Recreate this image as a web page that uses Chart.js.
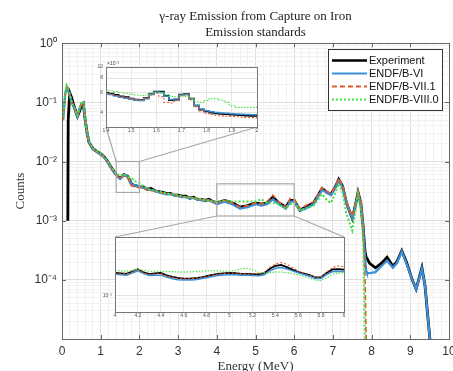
<!DOCTYPE html>
<html><head><meta charset="utf-8">
<script src="https://cdn.jsdelivr.net/npm/chart.js@4/dist/chart.umd.min.js"></script>
<style>
html,body{margin:0;padding:0;background:#fff;}
#wrap{position:relative;width:453px;height:371px;overflow:hidden;}
#wrap canvas{position:absolute;}
</style></head><body>
<div id="wrap">
<canvas id="main" width="453" height="371" style="left:0;top:0"></canvas>
<canvas id="in1" width="174" height="84" style="left:88px;top:56px"></canvas>
<canvas id="in2" width="256" height="97" style="left:93px;top:228px"></canvas>
</div>
<script>
// ---------------- DATA ----------------
const titleLines = ['\u03B3-ray Emission from Capture on Iron', 'Emission standards'];
const seriesNames = ['Experiment', 'ENDF/B-VI', 'ENDF/B-VII.1', 'ENDF/B-VIII.0'];
const xTickLabels = ['0','1','2','3','4','5','6','7','8','9','10'];
const yTickExponents = [-4, -3, -2, -1, 0];

// main panel: energy (MeV) and counts
const mainEnergy = [0.03,0.08,0.12,0.15,0.16,0.2,0.25,0.3,0.35,0.4,0.45,0.5,0.55,0.6,0.65,0.7,0.8,0.9,1.0,1.1,
  1.2,1.3,1.4,1.5,1.6,1.7,1.8,1.9,2.0,2.1,2.2,2.3,2.4,2.5,2.6,2.7,2.8,2.9,3.0,3.1,
  3.2,3.3,3.4,3.5,3.6,3.7,3.8,3.9,4.0,4.2,4.4,4.6,4.8,5.0,5.15,5.3,5.45,5.6,5.78,5.9,
  6.0,6.15,6.3,6.5,6.72,6.85,6.95,7.05,7.15,7.25,7.35,7.5,7.58,7.65,7.72,7.78,7.83,7.86,7.88,7.95,
  8.1,8.25,8.4,8.55,8.65,8.78,8.9,9.05,9.15,9.3,9.38,9.45,9.52];
const expCounts = [null,null,null,0.001,0.05,0.145,0.12,0.09,0.072,0.058,0.07,0.088,0.095,0.05,0.03,0.021,0.0165,0.0148,0.0135,0.0118,
  0.0095,0.0074,0.006,0.0052,0.006,0.0056,0.0041,0.0039,0.00375,0.0037,0.0034,0.0035,0.0032,0.0031,0.0030,0.0029,0.0029,0.0027,0.0027,0.0026,
  0.0026,0.0024,0.0025,0.0023,0.0023,0.0022,0.0023,0.0021,0.0020,0.0022,0.0020,0.0017,0.0018,0.0020,0.0019,0.0020,0.0025,0.0020,0.0017,0.0022,
  0.0022,0.0015,0.0017,0.0020,0.0035,0.0030,0.0028,0.0036,0.0050,0.0038,0.0020,0.0011,0.0018,0.0030,0.0020,0.0008,0.0003,0.00024,0.00023,0.00019,
  0.00016,0.00019,0.00024,0.00017,0.0002,0.00031,0.0002,0.0001,0.00007,0.00016,0.00008,0.000025,0.000008];
const endf6Counts = [0.05,0.13,0.18,0.165,0.155,0.13,0.1,0.085,0.07,0.058,0.075,0.095,0.1,0.05,0.03,0.021,0.016,0.0145,0.013,0.0115,
  0.0093,0.0072,0.0059,0.0051,0.006,0.0056,0.0041,0.0039,0.0038,0.0036,0.0034,0.0033,0.0032,0.003,0.0029,0.0028,0.0028,0.0027,0.0026,0.0025,
  0.0025,0.0024,0.0024,0.0023,0.0022,0.0022,0.0022,0.0021,0.0019,0.0021,0.0019,0.0016,0.0017,0.0019,0.0018,0.0019,0.0023,0.0019,0.0016,0.0021,
  0.0021,0.0015,0.0016,0.0019,0.0033,0.003,0.0027,0.0035,0.0048,0.0037,0.002,0.0011,0.0018,0.0029,0.002,0.0008,0.00025,0.00014,0.00013,0.00013,
  0.000135,0.00017,0.00021,0.00016,0.00019,0.0003,0.00019,0.0001,0.00007,0.000155,0.00008,0.000025,0.000008];
const endf71Counts = [0.05,0.14,0.18,0.17,0.16,0.13,0.1,0.085,0.07,0.06,0.075,0.095,0.1,0.05,0.03,0.021,0.0165,0.0148,0.0134,0.0117,
  0.0094,0.0073,0.0059,0.0051,0.0058,0.0054,0.0039,0.0037,0.0036,0.0037,0.0033,0.0034,0.0031,0.0031,0.0029,0.003,0.0028,0.0027,0.0026,0.0026,
  0.0025,0.0025,0.0024,0.0023,0.0023,0.0022,0.0022,0.0021,0.002,0.0022,0.002,0.0017,0.0018,0.002,0.0019,0.0021,0.0027,0.0021,0.0017,0.0024,
  0.0023,0.0016,0.0018,0.0021,0.0036,0.0031,0.0029,0.0037,0.0052,0.004,0.0021,0.0012,0.0019,0.0031,0.0021,0.0008,0.0001,0.00001,0.000001,null,
  null,null,null,null,null,null,null,null,null,null,null,null,null];
const endf80Counts = [0.056,0.15,0.195,0.18,0.165,0.14,0.105,0.088,0.072,0.06,0.078,0.098,0.102,0.052,0.031,0.022,0.0165,0.015,0.0136,0.0118,
  0.0096,0.0076,0.0063,0.0057,0.006,0.0056,0.0052,0.0046,0.0044,0.0038,0.0035,0.0033,0.0032,0.0031,0.003,0.0029,0.0028,0.0028,0.0027,0.0026,
  0.0025,0.0025,0.0024,0.0024,0.0023,0.0022,0.0022,0.0021,0.0021,0.0022,0.0021,0.0021,0.0021,0.0021,0.0023,0.0020,0.0020,0.0019,0.0016,0.0019,
  0.002,0.0015,0.0016,0.0018,0.0028,0.0022,0.002,0.0028,0.0042,0.003,0.0013,0.00068,0.0014,0.0028,0.0015,0.0005,0.00001,0.000001,null,null,
  null,null,null,null,null,null,null,null,null,null,null,null,null];

// inset 1 (1.4 - 2.0 MeV), counts in units of 1e-3
const inset1Energy = [1.40,1.42,1.44,1.46,1.48,1.50,1.52,1.54,1.56,1.58,1.60,1.62,1.64,1.66,1.68,1.70,1.72,1.74,1.76,1.78,1.80,1.82,1.84,1.86,1.88,1.90,1.92,1.94,1.96,1.98,2.00];
const inset1Exp   = [5.95,5.85,5.7,5.55,5.45,5.3,5.2,5.15,5.35,5.8,6.1,6.1,5.6,5.15,5.2,5.75,5.8,5.3,4.6,4.25,4.1,4.0,3.95,3.9,3.88,3.85,3.82,3.8,3.78,3.76,3.75];
const inset1E6    = [5.85,5.75,5.6,5.45,5.35,5.25,5.15,5.1,5.3,5.75,6.05,6.0,5.55,5.2,5.25,5.7,5.75,5.25,4.65,4.3,4.15,4.08,4.02,3.98,3.95,3.92,3.9,3.88,3.86,3.84,3.83];
const inset1E71   = [5.9,5.8,5.65,5.5,5.4,5.3,5.2,5.15,5.3,5.7,5.9,5.5,4.9,4.85,5.1,5.6,5.7,5.2,4.5,4.15,3.95,3.85,3.8,3.75,3.72,3.7,3.68,3.66,3.64,3.62,3.6];
const inset1E80   = [6.3,6.2,6.1,6.0,5.9,5.8,5.7,5.65,5.7,5.95,6.0,5.95,5.75,5.55,5.5,5.6,5.55,5.3,4.95,4.9,5.1,5.3,5.3,5.15,4.9,4.6,4.45,4.45,4.45,4.45,4.45];
const inset1XTicks = [1.4,1.5,1.6,1.7,1.8,1.9,2.0];
const inset1YLabels = [4,6,8,10];

// inset 2 (4 - 6 MeV), counts in units of 1e-3
const inset2Energy = [4.00,4.05,4.10,4.15,4.20,4.25,4.30,4.35,4.40,4.45,4.50,4.55,4.60,4.65,4.70,4.75,4.80,4.85,4.90,4.95,5.00,
  5.05,5.10,5.15,5.20,5.25,5.30,5.35,5.40,5.45,5.50,5.55,5.60,5.65,5.70,5.75,5.80,5.85,5.90,5.95,6.00];
const inset2Exp = [2.00,1.97,1.93,2.08,2.23,2.02,1.92,1.97,1.99,1.85,1.76,1.71,1.67,1.67,1.69,1.73,1.80,1.88,1.94,1.97,2.00,
  1.98,1.94,1.93,1.92,1.91,1.96,2.25,2.48,2.54,2.38,2.2,2.05,1.95,1.86,1.74,1.75,2.0,2.22,2.24,2.2];
const inset2E6 = [1.92,1.88,1.85,1.98,2.12,1.95,1.84,1.86,1.86,1.75,1.67,1.62,1.6,1.6,1.62,1.66,1.72,1.79,1.84,1.87,1.89,
  1.88,1.86,1.85,1.84,1.83,1.87,2.1,2.3,2.35,2.25,2.12,2.0,1.9,1.8,1.68,1.68,1.9,2.08,2.1,2.08];
const inset2E71 = [1.95,1.93,1.92,2.07,2.22,2.0,1.9,1.93,1.95,1.82,1.73,1.69,1.66,1.66,1.68,1.72,1.78,1.86,1.92,1.96,1.98,
  1.97,1.94,1.93,1.93,1.94,2.0,2.35,2.62,2.73,2.6,2.35,2.12,1.98,1.87,1.74,1.75,2.05,2.35,2.48,2.4];
const inset2E80 = [2.13,2.12,2.1,2.15,2.23,2.15,2.1,2.1,2.1,2.08,2.07,2.06,2.05,2.06,2.08,2.1,2.12,2.13,2.12,2.1,2.1,
  2.15,2.25,2.3,2.2,2.05,1.98,2.0,2.05,2.05,2.0,1.95,1.88,1.8,1.7,1.6,1.57,1.72,1.9,1.98,2.0];
const inset2XTicks = [4,4.2,4.4,4.6,4.8,5,5.2,5.4,5.6,5.8,6];

// zoom boxes on the main axes (energy range, counts range)
const zoom1Box = {x:[1.4, 2.0], y:[0.003, 0.01]};
const zoom2Box = {x:[4.0, 6.0], y:[0.0012, 0.0042]};

// ---------------- STYLE ----------------
const COLORS = ['#000000', '#3a8fd6', '#e05a2b', '#44e044'];
const SANS = "'Liberation Sans', Arial, sans-serif";
const SERIF = "'Liberation Serif', 'Times New Roman', serif";
const SUP = {'0':'\u2070','1':'\u00B9','2':'\u00B2','3':'\u00B3','4':'\u2074','5':'\u2075','6':'\u2076','7':'\u2077','8':'\u2078','9':'\u2079','-':'\u207B'};
function pow10(e){ return '10' + String(e).split('').map(c => SUP[c]).join(''); }
function isDecade(v){ const l = Math.log10(v); return Math.abs(l - Math.round(l)) < 1e-6; }
function pts(xs, ys){ return xs.map((x,i) => ({x:x, y:ys[i]})); }

Chart.defaults.font.family = SANS;
Chart.defaults.color = '#333';

function dsMain(i, data, width){
  const d = {label: seriesNames[i], data: data, borderColor: COLORS[i], backgroundColor: COLORS[i],
    borderWidth: width, pointRadius: 0, tension: 0, fill: false, order: 4 - i, spanGaps: false};
  if (i === 2) d.borderDash = [5,3];
  if (i === 3) d.borderDash = [2,2];
  return d;
}

const whiteArea = {
  id: 'whiteArea',
  beforeDraw(chart){
    const a = chart.chartArea, c = chart.ctx;
    c.save(); c.fillStyle = '#fff'; c.fillRect(a.left, a.top, a.right - a.left, a.bottom - a.top); c.restore();
  },
  afterDraw(chart){
    const a = chart.chartArea, c = chart.ctx;
    c.save(); c.strokeStyle = '#777'; c.lineWidth = 1;
    c.strokeRect(Math.round(a.left)+0.5, Math.round(a.top)+0.5, Math.round(a.right-a.left), Math.round(a.bottom-a.top));
    if (chart.options.plugins.multiplier && chart.options.plugins.multiplier.text){
      c.fillStyle = '#444'; c.font = '5px ' + SANS; c.textAlign = 'left'; c.textBaseline = 'bottom';
      c.fillText(chart.options.plugins.multiplier.text, a.left + 1, a.top - 1);
    }
    c.restore();
  }
};

function insetChart(id, xs, series, opts){
  const datasets = series.map((s, i) => {
    const d = dsMain(i, pts(xs, s), i === 0 ? 1.8 : (i === 1 ? 1.5 : 1.1));
    if (opts.stepped) d.stepped = 'middle';
    if (i === 2) d.borderDash = [2,2];
    if (i === 3) d.borderDash = [1.5,1.5];
    return d;
  });
  return new Chart(document.getElementById(id), {
    type: 'line',
    data: {datasets},
    plugins: [whiteArea],
    options: {
      responsive: false, animation: false, devicePixelRatio: 1,
      layout: {padding: {top: opts.padTop, right: opts.padRight, left: 0, bottom: 0}},
      plugins: {legend: {display: false}, tooltip: {enabled: false}, title: {display: false},
        multiplier: {text: opts.multiplier || ''}},
      scales: {
        x: {type: 'linear', min: opts.xMin, max: opts.xMax,
          afterBuildTicks: s => { s.ticks = opts.xTicks.map(v => ({value: v})); },
          afterFit: s => { s.height = opts.xHeight; s.paddingLeft = 0; s.paddingRight = 0; },
          ticks: {font: {size: 5}, color: '#555', padding: 1, autoSkip: false, maxRotation: 0,
            callback: v => String(+v.toFixed(1))},
          grid: {color: '#e2e2e2', drawTicks: false, lineWidth: 0.8},
          border: {display: false}},
        y: {type: 'logarithmic', min: opts.yMin, max: opts.yMax,
          afterBuildTicks: s => { s.ticks = opts.yTicks.map(v => ({value: v})); },
          afterFit: s => { s.width = opts.yWidth; s.paddingTop = 0; s.paddingBottom = 0; },
          ticks: {font: {size: 5}, color: '#555', padding: 3, autoSkip: false, callback: opts.yLabel},
          grid: {color: c => opts.yMajor(c.tick.value) ? '#dcdcdc' : '#f0f0f0', drawTicks: false, lineWidth: 0.8},
          border: {display: false}}
      }
    }
  });
}

const in1 = insetChart('in1', inset1Energy, [inset1Exp, inset1E6, inset1E71, inset1E80], {
  stepped: true, padTop: 11, padRight: 5, xHeight: 13, yWidth: 18,
  xMin: 1.4, xMax: 2.0, xTicks: inset1XTicks,
  yMin: 3, yMax: 10, yTicks: [3,4,5,6,7,8,9,10],
  yLabel: v => inset1YLabels.includes(Math.round(v)) && Math.abs(v - Math.round(v)) < 1e-6 ? String(Math.round(v)) : '',
  yMajor: v => inset1YLabels.includes(Math.round(v)),
  multiplier: '\u00D710' + '\u207B\u00B3'
});
const in2 = insetChart('in2', inset2Energy, [inset2Exp, inset2E6, inset2E71, inset2E80], {
  stepped: false, padTop: 9, padRight: 5, xHeight: 13, yWidth: 22,
  xMin: 4, xMax: 6, xTicks: inset2XTicks,
  yMin: 0.6, yMax: 6, yTicks: [0.6,0.7,0.8,0.9,1,2,3,4,5,6],
  yLabel: v => Math.abs(v - 1) < 1e-9 ? pow10(-3) : '',
  yMajor: v => Math.abs(v - 1) < 1e-9
});

// ---------------- MAIN ----------------
const mainDecor = {
  id: 'mainDecor',
  afterDatasetsDraw(chart){
    const c = chart.ctx, a = chart.chartArea, xs = chart.scales.x, ys = chart.scales.y;
    c.save();
    // axes box
    c.strokeStyle = '#666'; c.lineWidth = 1;
    c.strokeRect(Math.round(a.left)+0.5, Math.round(a.top)+0.5, Math.round(a.right-a.left), Math.round(a.bottom-a.top));
    // inward ticks
    c.beginPath();
    xTickLabels.forEach(t => { const px = Math.round(xs.getPixelForValue(+t)) + 0.5;
      c.moveTo(px, a.bottom); c.lineTo(px, a.bottom - 4); c.moveTo(px, a.top); c.lineTo(px, a.top + 4); });
    yTickExponents.concat([-5]).forEach(e => { const py = Math.round(ys.getPixelForValue(Math.pow(10, e))) + 0.5;
      c.moveTo(a.left, py); c.lineTo(a.left + 4, py); c.moveTo(a.right, py); c.lineTo(a.right - 4, py); });
    c.stroke();
    // zoom boxes and connectors
    c.strokeStyle = '#a8a8a8'; c.lineWidth = 1.2;
    const box = (b) => {
      const x1 = xs.getPixelForValue(b.x[0]), x2 = xs.getPixelForValue(b.x[1]);
      const y1 = ys.getPixelForValue(b.y[1]), y2 = ys.getPixelForValue(b.y[0]);
      c.strokeRect(x1, y1, x2 - x1, y2 - y1);
      return {x1, x2, y1, y2};
    };
    const r1 = box(zoom1Box), r2 = box(zoom2Box);
    const cv1 = in1.canvas, cv2 = in2.canvas, A1 = in1.chartArea, A2 = in2.chartArea;
    const o1x = cv1.offsetLeft, o1y = cv1.offsetTop, o2x = cv2.offsetLeft, o2y = cv2.offsetTop;
    c.beginPath();
    c.moveTo(r1.x1, r1.y1); c.lineTo(o1x + A1.left, o1y + A1.bottom);
    c.moveTo(r1.x2, r1.y1); c.lineTo(o1x + A1.right, o1y + A1.bottom);
    c.moveTo(r2.x1, r2.y2); c.lineTo(o2x + A2.left, o2y + A2.top);
    c.moveTo(r2.x2, r2.y2); c.lineTo(o2x + A2.right, o2y + A2.top);
    c.stroke();
    c.restore();
  },
  afterDraw(chart){
    // legend box
    const c = chart.ctx;
    const L = 328.5, T = 49.5, W = 114, H = 61;
    c.save();
    c.fillStyle = '#fff'; c.fillRect(L, T, W, H);
    c.strokeStyle = '#333'; c.lineWidth = 1; c.strokeRect(L, T, W, H);
    c.font = '11px ' + SANS; c.textBaseline = 'middle'; c.textAlign = 'left'; c.fillStyle = '#111';
    chart.data.datasets.forEach((d, i) => {
      const y = 60.5 + i * 13;
      c.beginPath(); c.strokeStyle = d.borderColor; c.lineWidth = i === 0 ? 2.5 : 2;
      c.setLineDash(d.borderDash || []);
      c.moveTo(332, y); c.lineTo(367, y); c.stroke();
      c.setLineDash([]);
      c.fillText(d.label, 369, y + 0.5);
    });
    c.restore();
  }
};

new Chart(document.getElementById('main'), {
  type: 'line',
  data: {datasets: [
    dsMain(0, pts(mainEnergy, expCounts), 2.8),
    dsMain(1, pts(mainEnergy, endf6Counts), 2.3),
    dsMain(2, pts(mainEnergy, endf71Counts), 1.7),
    dsMain(3, pts(mainEnergy, endf80Counts), 2)
  ]},
  plugins: [mainDecor],
  options: {
    responsive: false, animation: false, devicePixelRatio: 1,
    layout: {padding: {top: 0, right: 4, left: 0, bottom: 0}},
    plugins: {
      legend: {display: false}, tooltip: {enabled: false},
      title: {display: true, text: titleLines, fullSize: false,
        font: {family: SERIF, size: 13, weight: 'normal', lineHeight: 1.2}, color: '#222',
        padding: {top: 9, bottom: 3}}
    },
    scales: {
      x: {type: 'linear', min: 0, max: 10,
        afterBuildTicks: s => { const t = []; for (let k = 0; k <= 50; k++) t.push({value: k / 5}); s.ticks = t; },
        afterFit: s => { s.height = 32; s.paddingLeft = 0; s.paddingRight = 0; },
        ticks: {font: {size: 12}, color: '#333', padding: 5, autoSkip: false, maxRotation: 0,
          callback: v => { const r = Math.round(v); return Math.abs(v - r) < 1e-6 && xTickLabels.includes(String(r)) ? String(r) : ''; }},
        grid: {color: c => { const v = c.tick.value; return Math.abs(v - Math.round(v)) < 1e-6 ? '#dedede' : '#f1f1f1'; }, drawTicks: false},
        border: {display: false},
        title: {display: true, text: 'Energy (MeV)', font: {family: SERIF, size: 13}, color: '#333', padding: {top: 0, bottom: -3}}
      },
      y: {type: 'logarithmic', min: 1e-5, max: 1,
        afterBuildTicks: s => { const t = []; for (let e = -5; e < 0; e++) for (let m = 1; m < 10; m++) t.push({value: m * Math.pow(10, e)}); t.push({value: 1}); s.ticks = t; },
        afterFit: s => { s.width = 62; s.paddingTop = 0; s.paddingBottom = 0; },
        ticks: {font: {size: 12}, color: '#333', padding: 5, autoSkip: false,
          callback: v => { if (!isDecade(v)) return ''; const e = Math.round(Math.log10(v)); return yTickExponents.includes(e) ? pow10(e) : ''; }},
        grid: {color: c => isDecade(c.tick.value) ? '#dedede' : '#f1f1f1', drawTicks: false},
        border: {display: false},
        title: {display: true, text: 'Counts', font: {family: SERIF, size: 13}, color: '#333', padding: {top: 13, bottom: 0}}
      }
    }
  }
});
</script>
</body></html>
